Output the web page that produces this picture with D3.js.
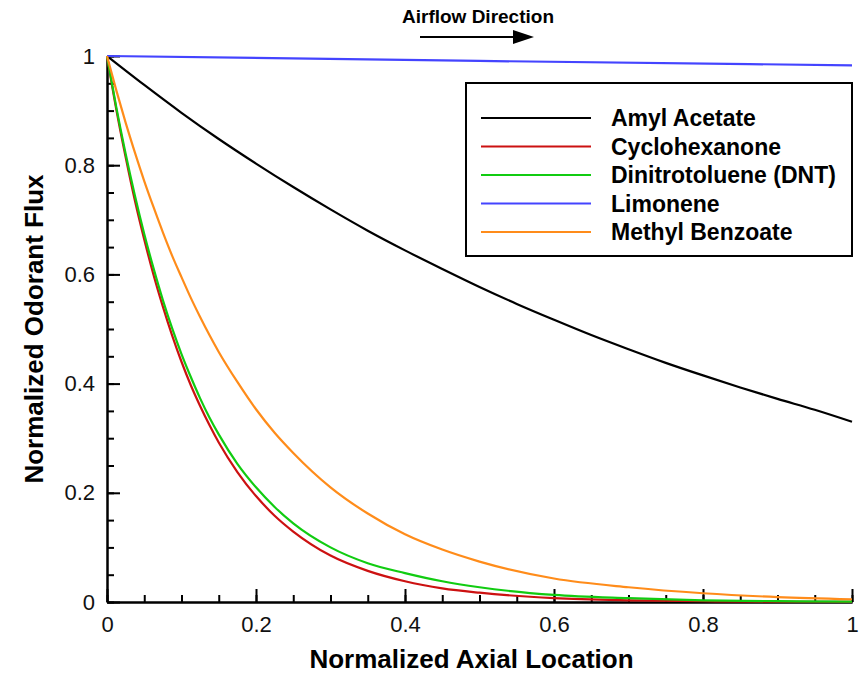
<!DOCTYPE html>
<html>
<head>
<meta charset="utf-8">
<script src="https://cdn.jsdelivr.net/npm/d3@7"></script>
<style>
  body { margin: 0; background: #fff; }
  text { font-family: "Liberation Sans", Arial, Helvetica, sans-serif; }
  .axis path, .axis line { stroke: #000; stroke-width: 2; }
  .axis text { font-size: 22px; fill: #111; }
</style>
</head>
<body>
<div id="chart"></div>
<script>
// values
const xAmyl = [0, 0.05, 0.1, 0.15, 0.2, 0.25, 0.3, 0.35, 0.4, 0.45, 0.5, 0.55, 0.6, 0.65, 0.7, 0.75, 0.8, 0.85, 0.9, 0.95, 1]
const amylAcetate = [1, 0.947, 0.896, 0.848, 0.803, 0.76, 0.719, 0.68, 0.644, 0.61, 0.577, 0.546, 0.517, 0.489, 0.463, 0.438, 0.415, 0.393, 0.372, 0.352, 0.33]

const xFast = [0, 0.0125, 0.025, 0.0375, 0.05, 0.0625, 0.075, 0.0875, 0.1, 0.1125, 0.125, 0.1375, 0.15, 0.175, 0.2, 0.225, 0.25, 0.3, 0.35, 0.4, 0.45, 0.5, 0.6, 0.7, 0.8, 0.9, 1]
const cyclohexanone = [1, 0.902, 0.815, 0.735, 0.664, 0.599, 0.541, 0.488, 0.44, 0.397, 0.359, 0.324, 0.292, 0.238, 0.194, 0.158, 0.129, 0.085, 0.057, 0.038, 0.025, 0.017, 0.007, 0.003, 0.0014, 0.0006, 0.0003]
const dnt = [1, 0.906, 0.821, 0.744, 0.674, 0.611, 0.553, 0.501, 0.454, 0.412, 0.373, 0.338, 0.307, 0.253, 0.21, 0.174, 0.144, 0.1, 0.071, 0.053, 0.038, 0.027, 0.013, 0.007, 0.003, 0.0015, 0.0007]
const methylBenzoate = [1, 0.937, 0.878, 0.823, 0.771, 0.723, 0.677, 0.634, 0.595, 0.557, 0.522, 0.489, 0.458, 0.403, 0.353, 0.31, 0.273, 0.21, 0.162, 0.124, 0.096, 0.074, 0.043, 0.027, 0.016, 0.009, 0.005]

const xLimonene = [0, 0.5, 1]
const limonene = [1, 0.991, 0.983]

const seriesNames = ['Amyl Acetate', 'Cyclohexanone', 'Dinitrotoluene (DNT)', 'Limonene', 'Methyl Benzoate']
const seriesColors = ['#000000', '#cc1111', '#11cc11', '#4444ff', '#ff8c1a']
const seriesX = [xAmyl, xFast, xFast, xLimonene, xFast]
const seriesY = [amylAcetate, cyclohexanone, dnt, limonene, methylBenzoate]

const xTicks = [0, 0.2, 0.4, 0.6, 0.8, 1]
const yTicks = [0, 0.2, 0.4, 0.6, 0.8, 1]
const minorTicks = d3.range(0, 1.0001, 0.05)

const W = 865, H = 673
const margin = {top: 56, right: 13, bottom: 71, left: 107}
const width = W - margin.left - margin.right
const height = H - margin.top - margin.bottom

const svgRoot = d3.select('#chart')
    .append('svg')
    .attr('width', W)
    .attr('height', H)
const svg = svgRoot.append('g')
    .attr('transform', `translate(${margin.left}, ${margin.top})`)

const xScale = d3.scaleLinear().domain([0, 1]).range([0, width])
const yScale = d3.scaleLinear().domain([0, 1]).range([height, 0])

//minor ticks
svg.append('g')
    .attr('class', 'axis')
    .attr('transform', 'translate(0,' + height + ')')
    .call(d3.axisBottom(xScale).tickValues(minorTicks).tickSize(-7).tickSizeOuter(0).tickFormat(''))
svg.append('g')
    .attr('class', 'axis')
    .call(d3.axisLeft(yScale).tickValues(minorTicks).tickSize(-7).tickSizeOuter(0).tickFormat(''))

//major ticks + labels
const fmt = d => d === 0 ? '0' : d === 1 ? '1' : d3.format('.1f')(d)
svg.append('g')
    .attr('class', 'axis')
    .attr('transform', 'translate(0,' + height + ')')
    .call(d3.axisBottom(xScale).tickValues(xTicks).tickSize(-13).tickSizeOuter(0).tickPadding(14).tickFormat(fmt))
svg.append('g')
    .attr('class', 'axis')
    .call(d3.axisLeft(yScale).tickValues(yTicks).tickSize(-13).tickSizeOuter(0).tickPadding(12).tickFormat(fmt))

//curves
const line = d3.line()
    .x(d => xScale(d[0]))
    .y(d => yScale(d[1]))
    .curve(d3.curveMonotoneX)
seriesNames.forEach((name, i) => {
    const pts = seriesX[i].map((x, j) => [x, seriesY[i][j]])
    svg.append('path')
        .datum(pts)
        .attr('fill', 'none')
        .attr('stroke', seriesColors[i])
        .attr('stroke-width', 2.2)
        .attr('d', line)
})

//legend
const legend = svg.append('g').attr('transform', 'translate(359, 27)')
legend.append('rect')
    .attr('width', 386)
    .attr('height', 173)
    .attr('fill', '#fff')
    .attr('stroke', '#000')
    .attr('stroke-width', 2)
seriesNames.forEach((name, i) => {
    const y = 35 + i * 28.5
    legend.append('line')
        .attr('x1', 15).attr('x2', 125)
        .attr('y1', y).attr('y2', y)
        .attr('stroke', seriesColors[i])
        .attr('stroke-width', 2.2)
    legend.append('text')
        .attr('x', 145)
        .attr('y', y)
        .attr('dy', '0.35em')
        .style('font-size', '23px')
        .style('font-weight', 'bold')
        .text(name)
})

//axis labels
svgRoot.append('text')
    .attr('x', margin.left + width * 0.5 - 8)
    .attr('y', 668)
    .style('text-anchor', 'middle')
    .style('font-size', '26px')
    .style('font-weight', 'bold')
    .text('Normalized Axial Location')
svgRoot.append('text')
    .attr('transform', 'translate(43,' + (margin.top + height / 2) + ') rotate(-90)')
    .style('text-anchor', 'middle')
    .style('font-size', '26px')
    .style('font-weight', 'bold')
    .text('Normalized Odorant Flux')

//airflow arrow
svgRoot.append('text')
    .attr('x', 478)
    .attr('y', 23)
    .style('text-anchor', 'middle')
    .style('font-size', '19px')
    .style('font-weight', 'bold')
    .text('Airflow Direction')
svgRoot.append('line')
    .attr('x1', 420).attr('x2', 516)
    .attr('y1', 37).attr('y2', 37)
    .attr('stroke', '#000')
    .attr('stroke-width', 2)
svgRoot.append('path')
    .attr('d', 'M513,30 L534,37 L513,44 Z')
    .attr('fill', '#000')
</script>
</body>
</html>
